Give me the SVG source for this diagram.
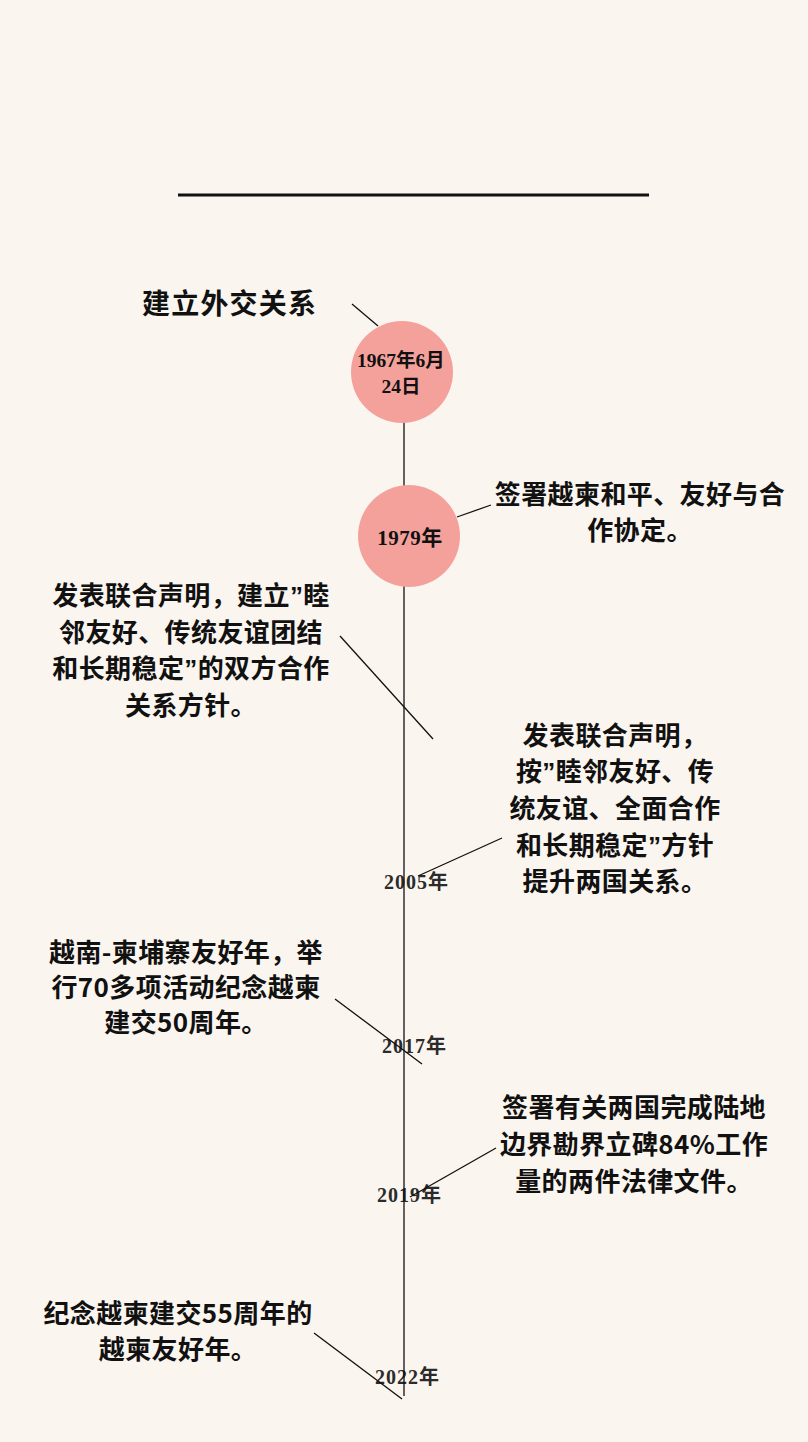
<svg xmlns="http://www.w3.org/2000/svg" width="808" height="1442" viewBox="0 0 808 1442">
  <style>
    .bg { fill: #FBF5EF; }
    .node { fill: #F4A19C; }
    .t { font-family: "Noto Sans CJK SC", "Noto Sans", sans-serif; font-weight: 700; font-size: 26px; fill: #111; text-anchor: middle; letter-spacing: 0.4px; }
    .q { font-family: "Liberation Sans", "Noto Sans", sans-serif; }
    .title { font-family: "Noto Sans CJK SC", "Noto Sans", sans-serif; font-weight: 700; font-size: 28px; fill: #111; letter-spacing: 1.2px; }
    .yr { font-family: "Liberation Serif", "Noto Sans CJK SC", serif; font-weight: 700; font-size: 19px; fill: #111; text-anchor: middle; }
    .yl { font-family: "Liberation Serif", "Noto Sans CJK SC", serif; font-weight: 700; font-size: 20px; fill: #2b2b2b; letter-spacing: 1px; }
    .conn line { stroke: #111; stroke-width: 1.3; }
    .axis { stroke: #111; stroke-width: 2; }
  </style>
  <rect class="bg" x="0" y="0" width="808" height="1442"/>

  <g id="header-rule">
    <line x1="178" y1="195" x2="649" y2="195" stroke="#111" stroke-width="3"/>
  </g>

  <g id="year-labels">
    <text class="yl" x="384" y="889">2005年</text>
    <text class="yl" x="382" y="1053">2017年</text>
    <text class="yl" x="377" y="1202">2019年</text>
    <text class="yl" x="375" y="1384">2022年</text>
  </g>

  <g id="connectors" class="conn">
    <line class="axis" x1="404" y1="422" x2="404" y2="1396"/>
    <line x1="352" y1="304" x2="378" y2="326"/>
    <line x1="457" y1="517" x2="491" y2="505"/>
    <line x1="340" y1="636" x2="433" y2="739"/>
    <line x1="502" y1="838" x2="418" y2="876"/>
    <line x1="335" y1="999" x2="422" y2="1064"/>
    <line x1="496" y1="1148" x2="410" y2="1197"/>
    <line x1="314" y1="1333" x2="402" y2="1399"/>
  </g>

  <g id="node-title">
    <text class="title" x="142" y="314">建立外交关系</text>
  </g>

  <g id="node-1967">
    <circle class="node" cx="402" cy="372" r="51"/>
    <text class="yr" x="401" y="367" style="font-size:19.5px">1967年6月</text>
    <text class="yr" x="401" y="393" style="font-size:19.5px">24日</text>
  </g>

  <g id="node-1979">
    <circle class="node" cx="409" cy="536" r="51"/>
    <text class="yr" x="410" y="545" style="font-size:21px;letter-spacing:0.5px">1979年</text>
  </g>

  <g id="node-1979-text">
    <text class="t" x="640" y="504">签署越柬和平、友好与合</text>
    <text class="t" x="640" y="540">作协定。</text>
  </g>

  <g id="node-joint-statement-1">
    <text class="t" x="191" y="605">发表联合声明，建立<tspan class="q">”</tspan>睦</text>
    <text class="t" x="191" y="642">邻友好、传统友谊团结</text>
    <text class="t" x="191" y="678">和长期稳定<tspan class="q">”</tspan>的双方合作</text>
    <text class="t" x="191" y="715">关系方针。</text>
  </g>

  <g id="node-2005-text">
    <text class="t" x="615" y="745">发表联合声明，</text>
    <text class="t" x="615" y="781">按<tspan class="q">”</tspan>睦邻友好、传</text>
    <text class="t" x="615" y="818">统友谊、全面合作</text>
    <text class="t" x="615" y="855">和长期稳定<tspan class="q">”</tspan>方针</text>
    <text class="t" x="615" y="891">提升两国关系。</text>
  </g>

  <g id="node-2017-text">
    <text class="t" x="186" y="962">越南-柬埔寨友好年，举</text>
    <text class="t" x="186" y="997">行70多项活动纪念越柬</text>
    <text class="t" x="186" y="1032">建交50周年。</text>
  </g>

  <g id="node-2019-text">
    <text class="t" x="634" y="1117">签署有关两国完成陆地</text>
    <text class="t" x="634" y="1154">边界勘界立碑84%工作</text>
    <text class="t" x="634" y="1191">量的两件法律文件。</text>
  </g>

  <g id="node-2022-text">
    <text class="t" x="178" y="1323">纪念越柬建交55周年的</text>
    <text class="t" x="178" y="1359">越柬友好年。</text>
  </g>
</svg>
